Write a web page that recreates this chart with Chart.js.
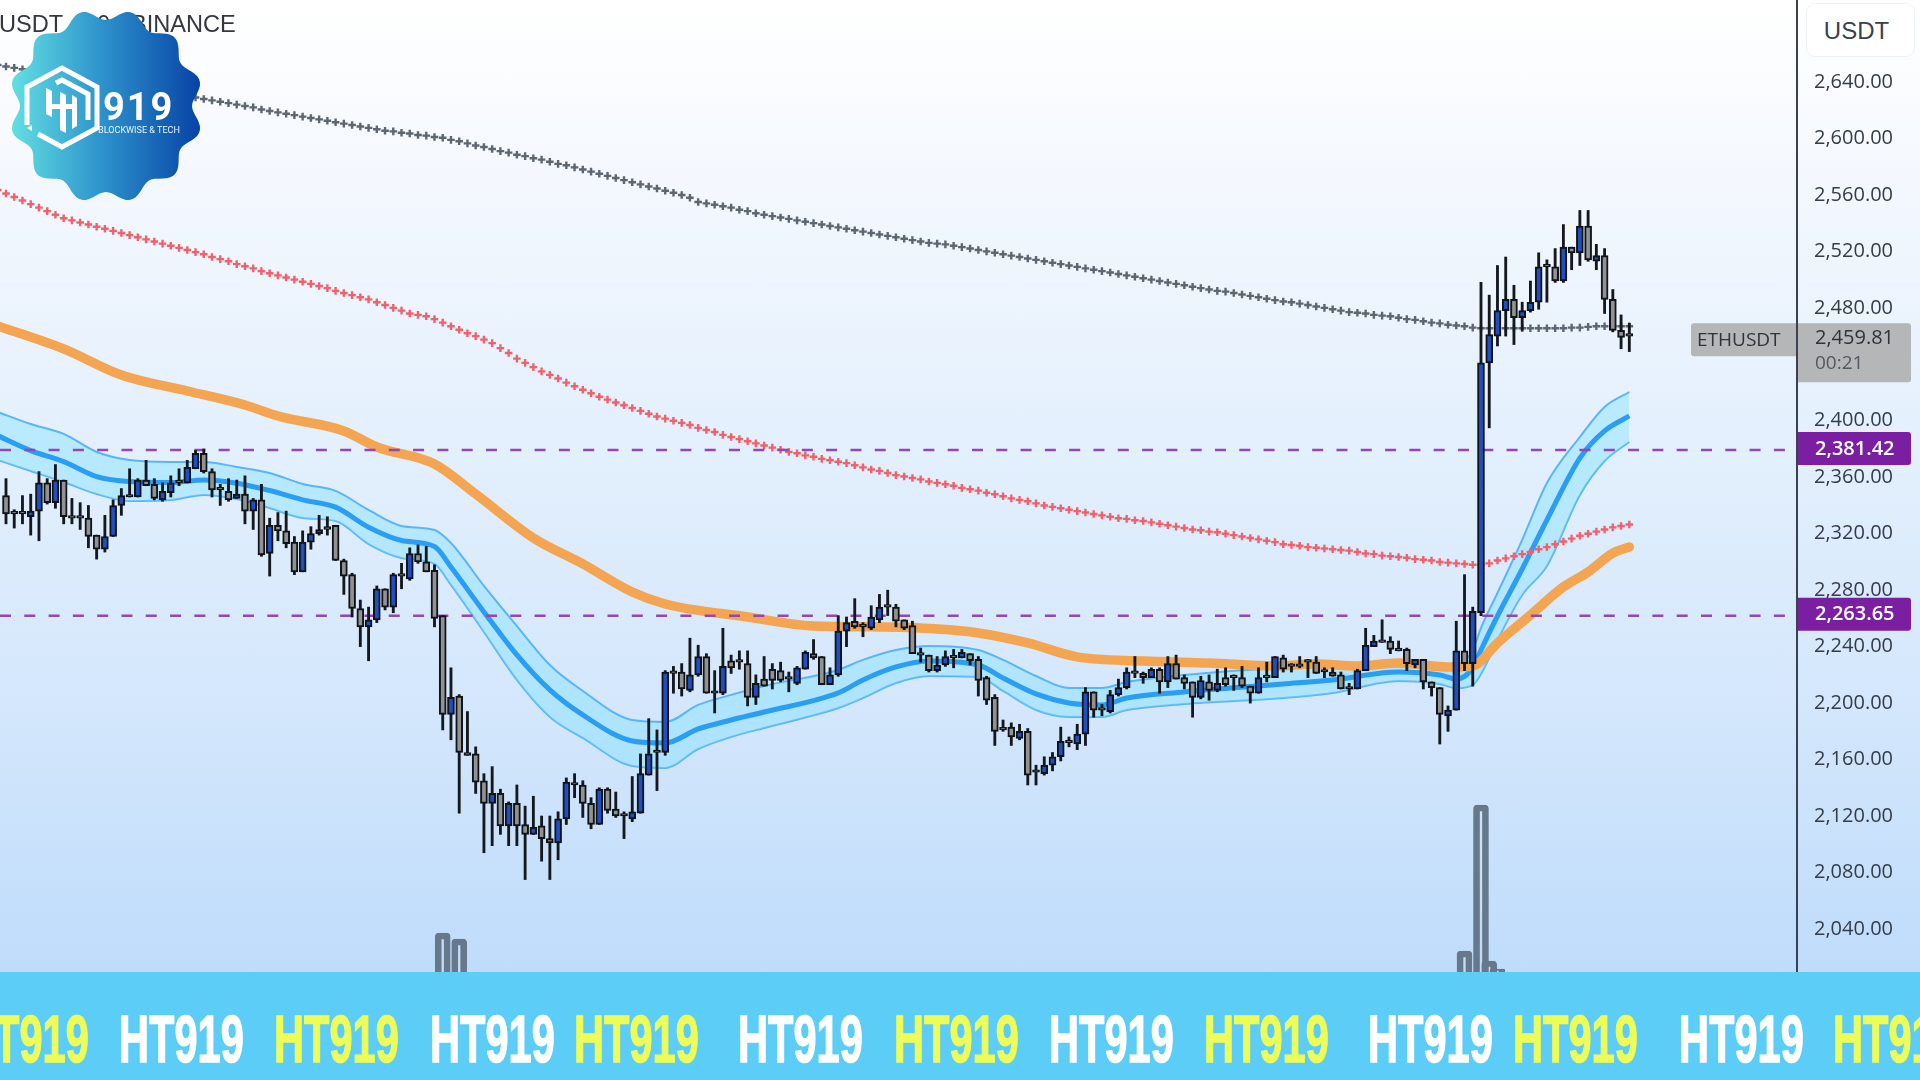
<!DOCTYPE html>
<html><head><meta charset="utf-8">
<script src="https://cdn.jsdelivr.net/npm/chart.js@4/dist/chart.umd.js"></script>
<style>
html,body{margin:0;padding:0;width:1920px;height:1080px;overflow:hidden}
body{position:relative;background:linear-gradient(180deg,#ffffff 0px,#f4f8fe 180px,#e4f0fd 430px,#d4e7fc 700px,#bfdcfb 972px)}
#c{position:absolute;left:0;top:0;width:1920px;height:972px;filter:blur(.5px)}
#title{position:absolute;left:-1px;top:11px;font:23.6px "Liberation Sans",sans-serif;color:#33373e;white-space:nowrap;filter:blur(.5px)}
#usdt{position:absolute;left:1806px;top:3px;width:109px;height:54px;background:#fff;border:1px solid #eef1f5;box-sizing:border-box;border-radius:9px;font:24px "Liberation Sans",sans-serif;color:#39414d;text-align:center;line-height:54px;padding-right:8px}
#banner{position:absolute;left:0;top:972px;width:1920px;height:108px;background:#5bcdf7;overflow:hidden}
#banner span{position:absolute;top:29px;font:bold 66px "Liberation Sans",sans-serif;transform-origin:0 0;transform:scaleX(.63);-webkit-text-stroke:1.4px currentColor;line-height:76px;white-space:nowrap}
#logo{position:absolute;left:0;top:0}
</style></head><body>
<canvas id="c" width="1920" height="972"></canvas>
<div id="title">USDT · 30 · BINANCE</div>
<div id="usdt">USDT</div>
<svg id="logo" width="212" height="212" viewBox="0 0 212 212">
<defs><linearGradient id="g" x1="0" x2="1" y1="0" y2="0"><stop offset="0" stop-color="#62dfe2"/><stop offset=".5" stop-color="#2b8fca"/><stop offset="1" stop-color="#0843a6"/></linearGradient></defs>
<path id="badge" fill="url(#g)"/>
<g fill="none" stroke="#fff" stroke-width="5">
<path d="M27 125V87L62 68L97 87V128L62 147L38 134"/>
<path d="M56 83L62 80L88 94V120"/>
</g>
<g fill="#fff"><path d="M46 88l6 3v26l-6-3zM46 104h26v5H46zM60 92l6 3v38l-6-3zM72 95l5 3v28l-5 3z"/><path d="M27 128l5-3v6z"/></g>
<text x="103" y="120" font-family="Roboto,sans-serif" font-weight="700" font-size="38" letter-spacing="2" fill="#fff">919</text>
<text x="98" y="133" font-family="Roboto,sans-serif" font-size="9.4" textLength="82" lengthAdjust="spacingAndGlyphs" fill="#e6f4fb">BLOCKWISE &amp; TECH</text>
</svg>
<div id="banner"></div>
<script>
const candleHigh=[2359,2337,2347,2348,2364,2359,2369,2358,2345,2342,
2340,2319,2333,2344,2352,2366,2359,2372,2359,2356,
2361,2366,2372,2379,2380,2366,2355,2359,2358,2361,
2345,2355,2331,2335,2336,2318,2322,2325,2333,2332,
2326,2302,2292,2273,2268,2283,2281,2292,2299,2310,
2312,2311,2298,2262,2225,2206,2194,2169,2150,2155,
2139,2130,2142,2127,2134,2120,2120,2123,2147,2150,
2145,2133,2140,2140,2137,2123,2148,2164,2189,2181,
2223,2226,2228,2246,2241,2235,2223,2253,2234,2237,
2237,2220,2233,2228,2229,2222,2226,2237,2245,2233,
2225,2262,2261,2274,2257,2269,2277,2280,2270,2259,
2258,2239,2234,2233,2237,2238,2238,2235,2233,2219,
2206,2188,2186,2185,2182,2156,2162,2165,2183,2176,
2185,2211,2208,2199,2209,2217,2225,2233,2222,2225,
2225,2233,2234,2220,2215,2219,2220,2224,2225,2220,
2226,2212,2225,2229,2233,2234,2228,2233,2231,2233,
2225,2225,2222,2214,2224,2253,2248,2259,2247,2244,
2239,2231,2231,2215,2211,2198,2258,2291,2268,2498,
2489,2510,2516,2496,2484,2499,2519,2514,2522,2539,
2523,2549,2549,2525,2522,2493,2475,2469];
const candleOpen=[2347,2334,2334,2332,2336,2356,2342,2358,2332,2332,
2331,2319,2309,2318,2340,2347,2346,2358,2355,2344,
2349,2357,2356,2366,2377,2364,2352,2350,2345,2348,
2336,2344,2306,2326,2322,2314,2293,2314,2320,2325,
2326,2301,2291,2267,2254,2259,2281,2268,2291,2288,
2306,2300,2294,2262,2192,2205,2165,2164,2145,2129,
2136,2113,2129,2114,2107,2113,2104,2101,2118,2143,
2142,2129,2114,2139,2125,2120,2118,2122,2149,2165,
2165,2222,2222,2209,2220,2233,2208,2207,2230,2229,
2228,2204,2217,2224,2223,2218,2214,2224,2235,2233,
2213,2220,2251,2258,2255,2253,2259,2269,2268,2259,
2255,2235,2234,2223,2227,2233,2232,2235,2231,2218,
2204,2181,2183,2175,2180,2152,2150,2156,2162,2173,
2171,2178,2208,2195,2194,2206,2211,2222,2221,2218,
2224,2215,2228,2218,2215,2204,2215,2209,2218,2219,
2218,2212,2207,2219,2218,2232,2226,2227,2230,2229,
2222,2222,2220,2211,2210,2223,2240,2244,2244,2239,
2238,2227,2231,2215,2211,2191,2195,2237,2228,2264,
2441,2460,2478,2486,2473,2478,2484,2509,2509,2499,
2523,2519,2538,2513,2517,2486,2464,2460];
const candleClose=[2334,2334,2334,2336,2356,2342,2358,2332,2331,2331,
2318,2309,2318,2340,2347,2346,2358,2354,2345,2350,
2356,2356,2367,2377,2364,2351,2351,2344,2348,2336,
2344,2305,2326,2322,2313,2293,2314,2320,2323,2323,
2301,2290,2267,2254,2259,2281,2268,2291,2290,2306,
2300,2293,2260,2192,2204,2165,2163,2144,2129,2136,
2113,2129,2113,2107,2112,2104,2101,2118,2144,2142,
2129,2114,2139,2124,2120,2120,2123,2150,2164,2165,
2222,2221,2210,2220,2233,2207,2207,2226,2225,2229,
2204,2214,2212,2216,2216,2217,2225,2236,2232,2213,
2220,2251,2257,2254,2254,2261,2268,2268,2258,2253,
2235,2234,2223,2227,2233,2232,2236,2230,2216,2202,
2180,2181,2176,2180,2149,2151,2156,2162,2173,2172,
2178,2208,2195,2195,2206,2211,2222,2221,2218,2224,
2215,2228,2217,2214,2204,2216,2209,2214,2213,2218,
2212,2207,2218,2218,2233,2224,2226,2226,2229,2221,
2222,2219,2210,2210,2223,2241,2244,2243,2238,2237,
2228,2231,2215,2211,2192,2195,2237,2228,2265,2441,
2461,2478,2486,2473,2478,2484,2509,2509,2499,2523,
2519,2538,2514,2517,2486,2464,2459,2460];
const candleLow=[2327,2324,2327,2319,2315,2341,2338,2327,2327,2323,
2310,2302,2307,2318,2333,2346,2346,2354,2344,2343,
2346,2354,2356,2366,2363,2346,2340,2343,2345,2327,
2323,2304,2290,2315,2310,2291,2293,2309,2319,2319,
2301,2277,2261,2240,2230,2257,2266,2264,2281,2287,
2299,2293,2254,2181,2174,2122,2163,2136,2094,2099,
2107,2099,2099,2075,2107,2088,2075,2089,2114,2133,
2119,2111,2114,2122,2119,2104,2116,2122,2149,2138,
2163,2207,2205,2208,2219,2207,2193,2206,2221,2224,
2198,2199,2212,2210,2215,2208,2213,2224,2231,2213,
2213,2219,2240,2253,2247,2252,2257,2262,2254,2252,
2235,2229,2222,2222,2226,2225,2232,2227,2205,2199,
2170,2180,2170,2174,2142,2142,2149,2152,2159,2169,
2167,2170,2190,2191,2193,2205,2210,2218,2214,2218,
2207,2211,2217,2210,2190,2203,2202,2208,2212,2209,
2211,2200,2207,2215,2218,2222,2222,2225,2218,2221,
2218,2219,2210,2206,2210,2223,2240,2243,2235,2237,
2223,2225,2210,2205,2171,2180,2195,2223,2212,2262,
2395,2453,2460,2454,2464,2477,2479,2484,2498,2498,
2507,2510,2513,2507,2476,2463,2451,2449];
const greyMA=[2652,2651,2650,2649,2648,2647,2646,2645,2644,2643,2642,2641.5,2640.5,2639.5,2638.5,2637.5,2636.5,2635.5,2634.5,2633.5,2632.5,2631.5,2630.5,2629.5,2629,2628,
2627,2626,2625,2624,2623,2622,2620.5,2619.5,2618.5,2617.5,2616.5,2615.5,2614.5,2613.5,2612.5,2611.5,2610.5,
2609.5,2608.5,2607.5,2606.5,2605.5,2605,2604,2603.5,2602.5,2602,2601,2600.5,
2599,2598,2596.5,2595,2594,2592.5,2591,2590,2588.5,2587.5,2586,2585,2583.5,2582,2581,2579.5,2578,
2576.5,2575,2573.5,2572,2570.5,2569,2567.5,2566,2564.5,2563,2561.5,2560,2558,
2555,2554,2553,2552,2551,2549.5,2548.5,2547,2546,2545,2544,2543,2542,2541,2540,2539,2538,2537,2536,2535,2534,2533,2532,
2531,2530,2529,2528,2527,2526,2525.5,2525,2524,2523,2522,2521,
2520,2519,2518,2517,2516,2515,2514,2513,2512,2511,2510,2509,
2508,2507,2506,2505,2504,2503,2502,2501,2500,2499,2498,2497,
2496,2495,2494,2493,2492,2491.5,2490.5,2489.5,2488.5,2487.5,
2486.5,2485.5,2484.5,2484,2483,2482,2481,2480,2479,2478,
2477,2476.5,2476,2475,2474.5,2474,2473,
2472,2471.5,2470.5,2469.5,2469,2468,2467.5,2467,2466,2465.5,
2465.5,2465.5,2465.5,2465.5,2465.5,2465.5,2465.5,2465.5,2465.5,2465.5,2466,2466,2466.5,2467,2467,2467,2467,2467];
const redMA=[2563.5,2561,2558.5,2556,2553.5,2551,2548.5,2546,2543.5,
2542,2540.5,2539,2537.5,2536,2534.5,2533,
2531.5,2530,2528.5,2527,2525.5,2524,2522.5,2521,
2519.5,2518,2516,2514.5,2513,2511,2509.5,
2508,2506,2504.5,2503,2501.5,2500,2498.5,
2497,2495.5,2494,2492,2490.5,2489,2487.5,2486,
2484,2482,2480,2478,2476,2475,2474,
2472,2469.5,2467,2464.5,2462,2460,2457.5,2455,
2451.5,2448,2444,2441,2438,2435,2432.5,
2430,2427,2424.5,2422,2419.5,2417,2415,2413,
2411,2409,2407,2405,2403,2401.5,2400,
2398.5,2397,2395,2393.5,2392,2390,2388.5,2387,
2385.5,2384,2382.5,2381,2379.5,2378,2377,
2375.5,2374.5,2373,2372,2371,2370,2368.5,
2367,2365.5,2364.5,2363,2361.5,2360.5,2359.5,2358.5,
2357,2356,2355,2354,2352.5,2351.5,2350.5,
2349,2348,2346.5,2345,2344,2343,2341.5,2340,
2339,2338,2337,2336,2335,2334,2333,
2332,2331,2330.5,2329.5,2329,2328,2327,
2326,2325,2324,2323,2322.5,2321.5,2321,2320,
2319,2318,2317,2316,2315,2314,2312.5,
2312,2311.5,2310.5,2310,2309.5,2309,2308.5,2308,
2307,2306,2305.5,2304.5,2304,2303.5,2303,
2302,2301.5,2301,2300,2299.5,2299,2298.5,2298,2298,2299,
2301,2302.5,2304,2305.5,2307,2309,2310.5,2312.5,2314.5,2316.5,2318.5,2320,2321.5,2323,2324.5,2325.5,2326.5];
const orangeIdx=[-1,7,14,22,29,33,41,45,52,57,64,70,76,80,90,98,105,113,118,124,130,138,146,154,159,164,169,175,178,181,185,189,192,195,197];
const orangeMA=[2467.2,2450.9,2432.4,2421.1,2411.2,2403.4,2392.8,2381.4,2369.4,2348.1,2317,2298.6,2278.7,2270.2,2261,2254.6,2254,2252.5,2249.7,2242.6,2232.7,2229.8,2228.4,2226.3,2227.7,2226.3,2228.4,2225.6,2226.3,2242.6,2262.4,2282.3,2292.9,2306.3,2310.6];
const bandIdx=[-1,3,7,11,15,20,24,28,32,36,40,44,48,52,54,58,62,66,70,76,80,84,88,92,101,104,108,112,118,121,125,129,133,136,143,155,161,169,174,176,178,179,181,184,187,191,194,197];
const bandMid=[2389.5,2378.9,2371.1,2360.5,2356.9,2356.2,2358.1,2355.8,2350.6,2344,2338.8,2324.6,2315.2,2310.9,2296.4,2264.6,2234.1,2209.3,2191.6,2173.2,2171.8,2181.7,2188,2193.7,2207.2,2216.4,2225.6,2229.8,2227,2217.8,2206.5,2200.1,2198.7,2203.6,2207.9,2213.5,2216.4,2222,2219.9,2217.1,2224.9,2237.6,2261.7,2295,2329.7,2373.6,2392.8,2403.4];
const bandUpper=[2406.2,2397.7,2390.7,2377.9,2372.2,2370.8,2370.8,2367.3,2363,2355.2,2350.3,2336.8,2325.5,2322.6,2313.4,2283,2254.6,2227,2208.6,2188,2186.6,2198.7,2205.8,2212.1,2223.5,2230.6,2237.6,2240.5,2237.6,2230.6,2219.2,2210.7,2210.7,2215,2219.9,2224.9,2225.6,2228.4,2228.4,2226.3,2237.6,2253.2,2278,2315.6,2355.9,2388.5,2409.8,2420.4];
const bandLower=[2372.2,2364.4,2356.6,2348.1,2343.2,2343.9,2347.4,2344.6,2338.2,2331.1,2329,2312.7,2302.8,2298.6,2283.7,2250.4,2216.4,2190.2,2175.3,2155.5,2154.1,2167.5,2176,2182.4,2196.5,2203.6,2214.2,2219.2,2218.5,2208.6,2195.1,2190.2,2190.2,2195.1,2199.4,2203.6,2207.2,2215.7,2213.6,2210.7,2212.8,2220.6,2244.7,2276.6,2297.1,2347.4,2371.5,2385];
const volumeIdx=[53,55,177,179,180,181];
const volumeVals=[195,165,105,835,55,15];
const levelValues=[2379.3,2261.9];
const levelLabels=["2,381.42","2,263.65"];
const priceTicks=[2040,2080,2120,2160,2200,2240,2280,2320,2360,2400,2480,2520,2560,2600,2640];
const lastPrice=2459.81, lastLabel="2,459.81", countdown="00:21", symbolLabel="ETHUSDT";
const bannerWords=[[-36,1],[119,0],[274,1],[430,0],[574,1],[738,0],[894,1],[1049,0],[1204,1],[1368,0],[1513,1],[1679,0],[1833,1]];

/* decoration */
(function(){let d='';const cx=106,cy=106;for(let k=0;k<=360;k+=2){const t=k*Math.PI/180;const r=91.5+5.5*Math.cos(12*t+Math.PI);
 const p=(cx+r*Math.cos(t)).toFixed(1)+' '+(cy+r*Math.sin(t)).toFixed(1);d+=(k?'L':'M')+p;}
 document.getElementById('badge').setAttribute('d',d+'Z');
 const b=document.getElementById('banner');
 bannerWords.forEach(w=>{const s=document.createElement('span');s.textContent='HT919';s.style.left=w[0]+'px';s.style.color=w[1]?'#eefc5a':'#ffffff';b.appendChild(s);});
})();

const pts=(idx,vals)=>idx.map((x,k)=>({x,y:vals[k]}));
const allIdx=candleOpen.map((_,i)=>i);
const maIdx=[-1,...allIdx];
const FONT='"Open Sans",sans-serif';
const overlay={id:'overlay',afterDraw(ch){
 const c=ch.ctx,s=ch.scales.y;c.save();
 c.textBaseline='middle';c.textAlign='left';
 const py=s.getPixelForValue(lastPrice);
 const top=py-13;
 c.fillStyle='#b4b6b8';
 c.beginPath();c.roundRect(1691,top,105,33,[3,0,0,3]);c.fill();
 c.beginPath();c.roundRect(1798,top,113,59,[0,3,3,0]);c.fill();
 c.fillStyle='#2f343b';c.font='19px '+FONT;
 c.fillText(symbolLabel,1697,top+17);
 c.font='20px '+FONT;c.fillText(lastLabel,1815,top+15);
 c.fillStyle='#55595f';c.font='19px '+FONT;c.fillText(countdown,1815,top+40);
 levelValues.forEach((v,k)=>{const y=s.getPixelForValue(v)-1;
  c.fillStyle='#7a1fa2';c.beginPath();c.roundRect(1798,y-17,113,33,[0,3,3,0]);c.fill();
  c.fillStyle='#fff';c.font='600 20px '+FONT;c.fillText(levelLabels[k],1815,y);});
 c.restore();}};

new Chart(document.getElementById('c'),{
 type:'bar',
 data:{datasets:[
  {type:'bar',label:'body',order:1,yAxisID:'y',data:allIdx.map(i=>({x:i,y:[candleOpen[i],candleClose[i]]})),
   backgroundColor:allIdx.map(i=>candleClose[i]>candleOpen[i]?'#1f4fc0':'#929292'),borderColor:'#101317',borderWidth:2,borderSkipped:false,barThickness:7,grouped:false,minBarLength:2.5},
  {type:'bar',label:'wick',order:2,yAxisID:'y',data:allIdx.map(i=>({x:i,y:[candleLow[i],candleHigh[i]]})),
   backgroundColor:'#15181d',borderWidth:0,barThickness:2.2,grouped:false},
  {type:'line',label:'levelA',order:3,data:[{x:-0.73,y:levelValues[0]},{x:216.1,y:levelValues[0]}],borderColor:'#9446b4',borderWidth:2.4,borderDash:[11,13.3],pointRadius:0},
  {type:'line',label:'levelB',order:3,data:[{x:-0.73,y:levelValues[1]},{x:216.1,y:levelValues[1]}],borderColor:'#9446b4',borderWidth:2.4,borderDash:[11,13.3],pointRadius:0},
  {type:'line',label:'grey',order:4,data:pts(maIdx,greyMA),showLine:false,pointStyle:'cross',pointRadius:3.8,pointBorderWidth:2.4,pointBorderColor:'#5d6671'},
  {type:'line',label:'red',order:4,data:pts(maIdx,redMA),showLine:false,pointStyle:'cross',pointRadius:3.8,pointBorderWidth:2.4,pointBorderColor:'#f1616c'},
  {type:'line',label:'orange',order:5,data:pts(orangeIdx,orangeMA),borderColor:'#f3a552',borderWidth:9.5,pointRadius:0,cubicInterpolationMode:'monotone',borderCapStyle:'round'},
  {type:'line',label:'mid',order:6,data:pts(bandIdx,bandMid),borderColor:'#2a9df4',borderWidth:5,pointRadius:0,cubicInterpolationMode:'monotone'},
  {type:'line',label:'upper',order:7,data:pts(bandIdx,bandUpper),borderColor:'#5ab4f8',borderWidth:2,pointRadius:0,cubicInterpolationMode:'monotone',fill:'+1',backgroundColor:'rgba(120,225,255,.4)'},
  {type:'line',label:'lower',order:7,data:pts(bandIdx,bandLower),borderColor:'#5ab4f8',borderWidth:2,pointRadius:0,cubicInterpolationMode:'monotone'},
  {type:'bar',label:'volume',order:8,yAxisID:'yVol',data:pts(volumeIdx,volumeVals),backgroundColor:'transparent',borderColor:'#66788a',borderWidth:6,borderRadius:4,borderSkipped:'bottom',barThickness:15,grouped:false}
 ]},
 options:{responsive:false,animation:false,devicePixelRatio:1,
  layout:{padding:0,autoPadding:false},
  plugins:{legend:{display:false},tooltip:{enabled:false}},
  scales:{
   x:{type:'linear',display:false,offset:false,min:-0.728,max:217.35,grid:{display:false}},
   y:{position:'right',offset:false,min:2009.5,max:2698.09,
    afterFit(s){s.width=123;s.paddingTop=0;s.paddingBottom=0;},
    afterBuildTicks(s){s.ticks=priceTicks.map(v=>({value:v}));},
    grid:{display:false,drawTicks:false},
    border:{display:true,color:'#39424e',width:2},
    ticks:{autoSkip:false,crossAlign:'near',padding:17,color:'#343c49',font:{family:'"Open Sans",sans-serif',size:20},
     callback:v=>v.toLocaleString('en-US',{minimumFractionDigits:2,maximumFractionDigits:2})}},
   yVol:{display:false,offset:false,min:0,max:4860,grid:{display:false}}
  }},
 plugins:[overlay]
});
</script>
</body></html>
